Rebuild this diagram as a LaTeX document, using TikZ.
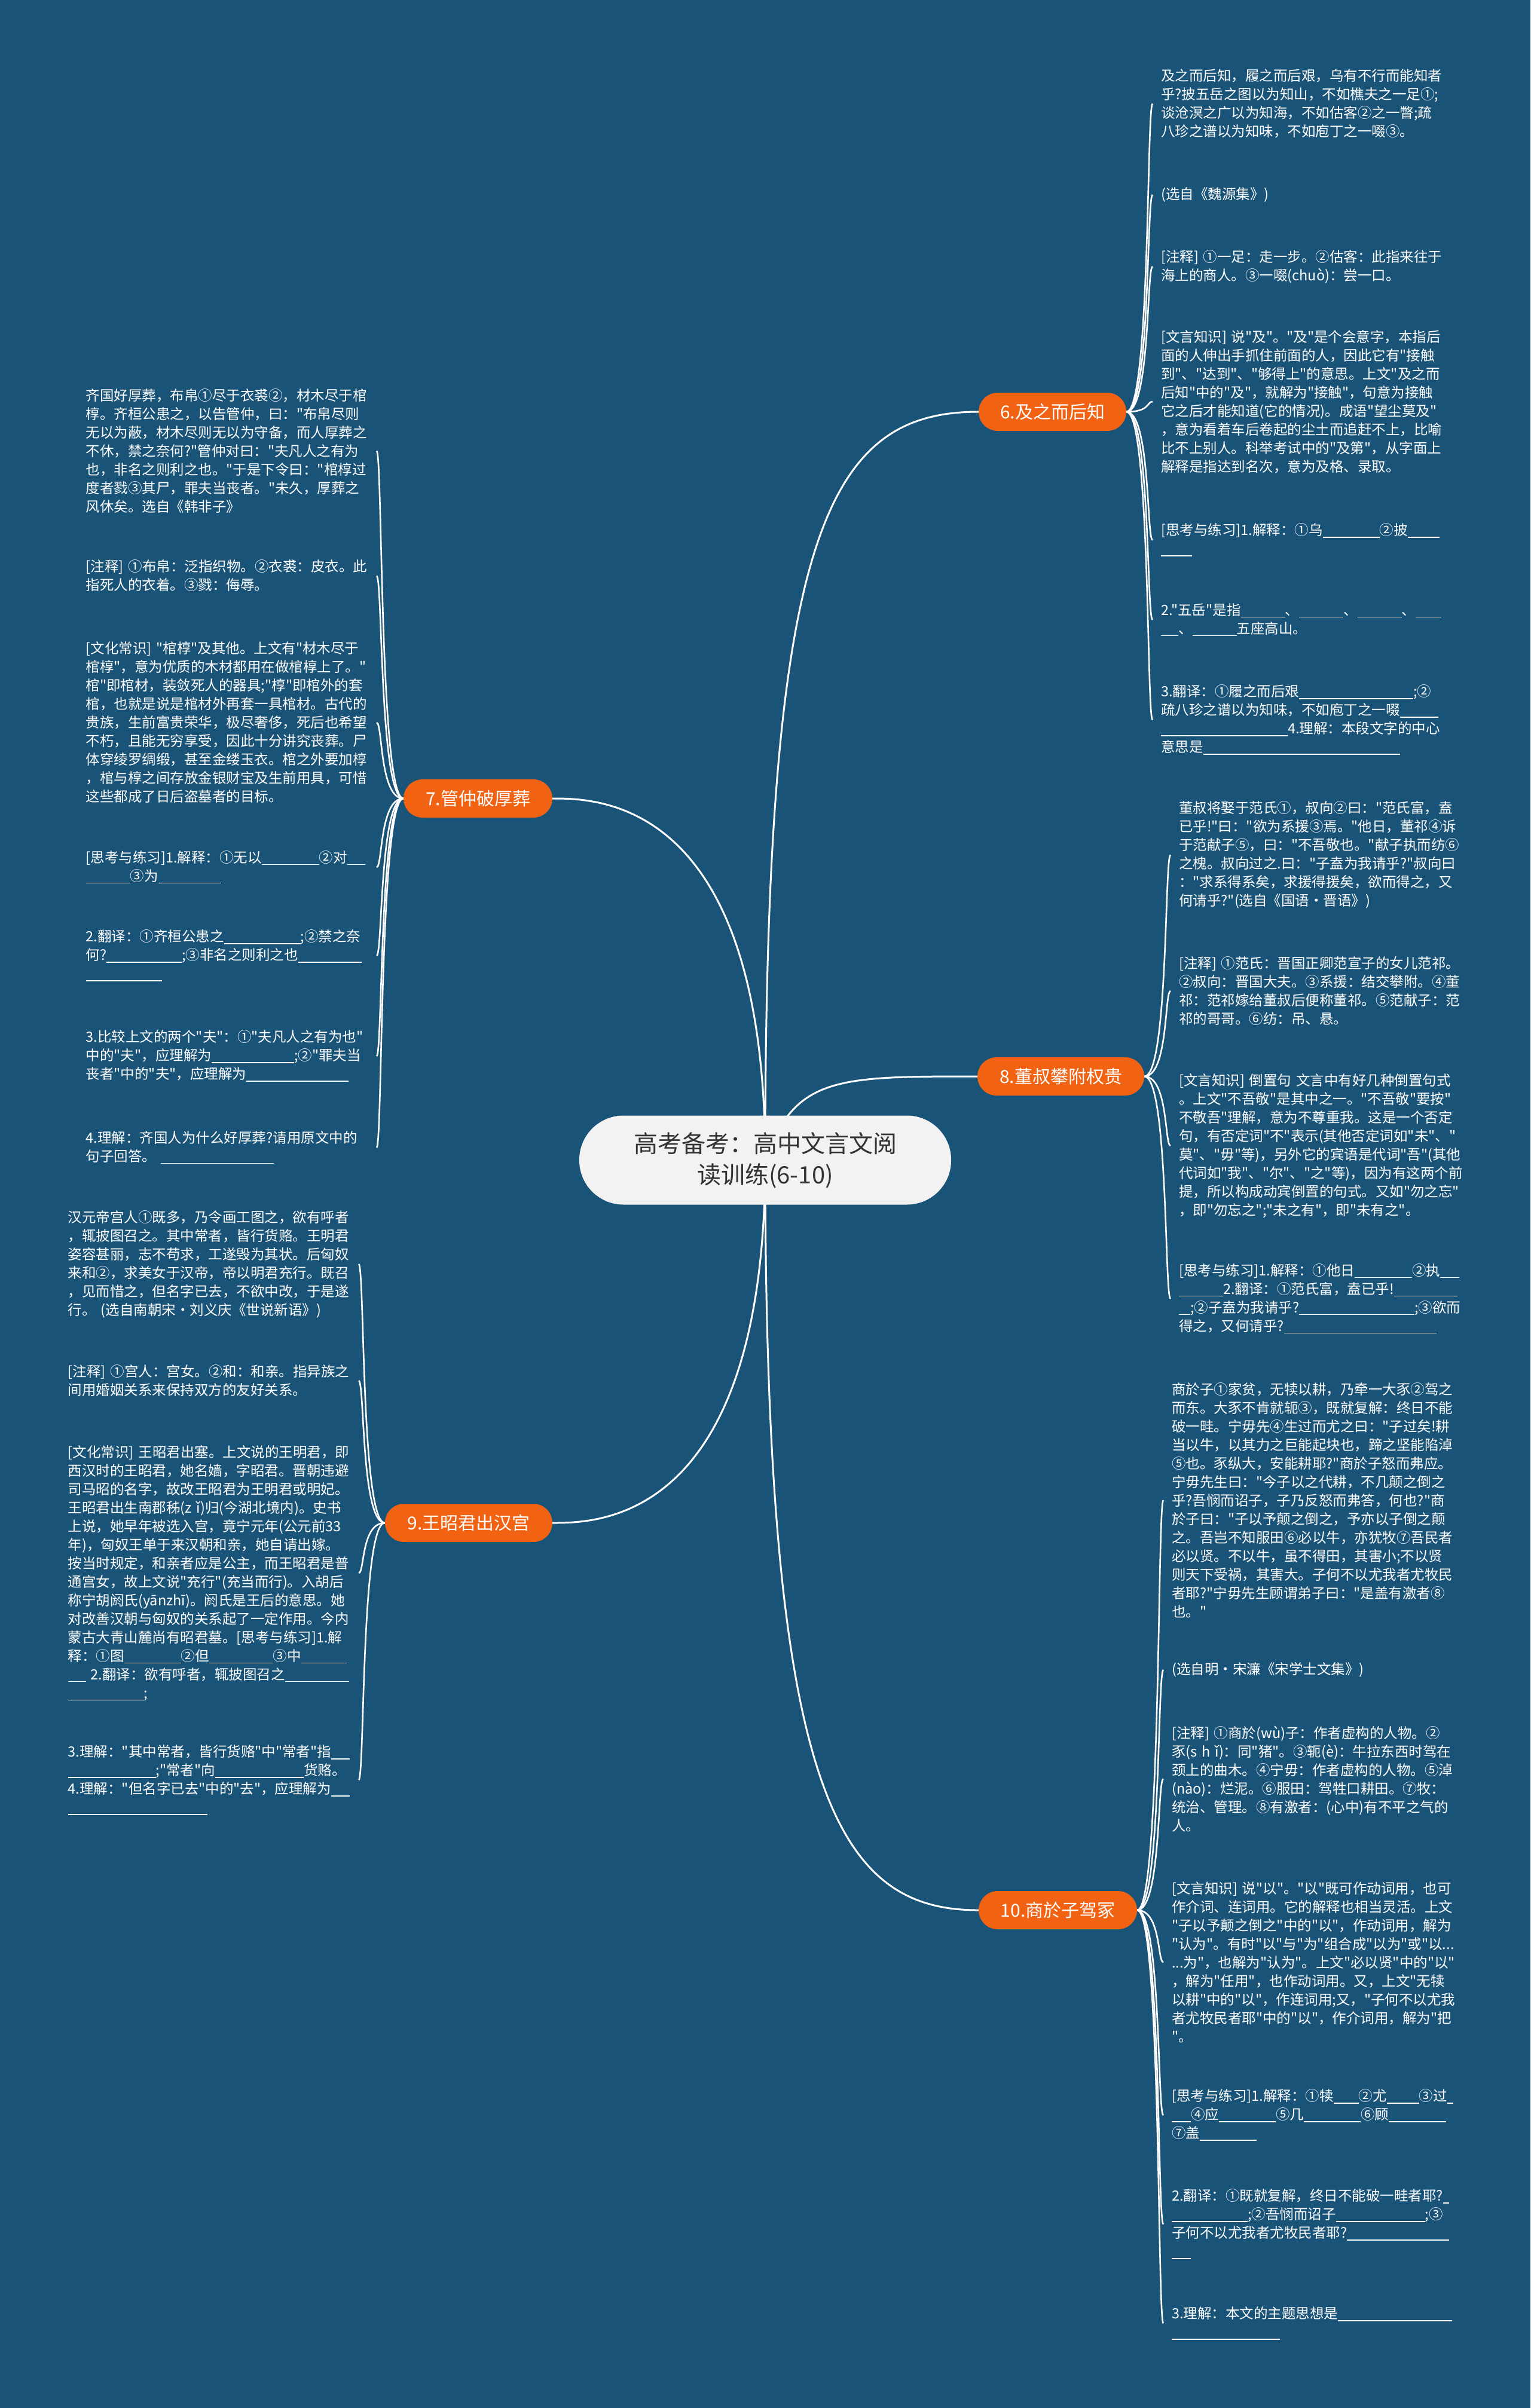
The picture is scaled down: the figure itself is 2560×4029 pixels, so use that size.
\documentclass[tikz,border=0pt]{standalone}
\usepackage{fontspec}
\newfontfamily\cjk{Noto Sans CJK SC}
\definecolor{bgc}{RGB}{26,83,120}
\definecolor{org}{RGB}{241,98,18}
\definecolor{ctrfill}{RGB}{242,242,242}
\definecolor{ctrtext}{RGB}{51,51,51}
\newcommand\blnk[1]{\rule[-4pt]{#1pt}{1.5pt}}
\pgfdeclarelayer{bg}
\pgfdeclarelayer{lines}
\pgfsetlayers{bg,lines,main}
\tikzset{
  leaf/.style={inner ysep=4pt, text width=480pt, align=left, text=white,
    font=\cjk\fontsize{23.5}{31}\selectfont},
  leafR/.style={leaf, anchor=west, inner xsep=14pt},
  leafL/.style={leaf, anchor=east, inner xsep=8pt, text width=478pt},
  branch/.style={fill=org, text=white, rounded corners=32pt, minimum height=64pt,
    inner xsep=0pt, font=\cjk\fontsize{30}{36}\selectfont},
  hub/.style={fill=ctrfill, text=ctrtext, rounded corners=74pt, minimum width=622pt,
    minimum height=149pt, align=center, font=\cjk\fontsize{40}{52}\selectfont},
  mainline/.style={draw=white, line width=3pt},
  twig/.style={draw=white, line width=2.6pt},
}
\begin{document}
\begin{tikzpicture}[x=1pt,y=-1pt]
\begin{pgfonlayer}{bg}
\fill[bgc] (0,0) rectangle (2560,4029);
\end{pgfonlayer}
\useasboundingbox (0,0) rectangle (2560,4029);

% hub and branches
\node[hub] (c) at (1280,1941) {高考备考：高中文言文阅\\读训练(6-10)};
\node[branch, minimum width=247pt] (b6) at (1760.5,689) {6.及之而后知};
\node[branch, minimum width=249pt] (b7) at (799.5,1336) {7.管仲破厚葬};
\node[branch, minimum width=279pt] (b8) at (1774.5,1801) {8.董叔攀附权贵};
\node[branch, minimum width=280pt] (b9) at (784,2548) {9.王昭君出汉宫};
\node[branch, minimum width=265pt] (b10) at (1769.5,3196) {10.商於子驾冢};

% branch 6
\node[leafR] (l6a) at (1928,173.5) {及之而后知，履之而后艰，乌有不行而能知者\\
乎?披五岳之图以为知山，不如樵夫之一足①;\\
谈沧溟之广以为知海，不如估客②之一瞥;疏\\
八珍之谱以为知味，不如庖丁之一啜③。};
\node[leafR] (l6b) at (1928,326) {(选自《魏源集》)};
\node[leafR] (l6c) at (1928,446) {[注释]~①一足：走一步。②估客：此指来往于\\
海上的商人。③一啜(chuò)：尝一口。};
\node[leafR] (l6d) at (1928,672) {[文言知识]~说"及"。"及"是个会意字，本指后\\
面的人伸出手抓住前面的人，因此它有"接触\\
到"、"达到"、"够得上"的意思。上文"及之而\\
后知"中的"及"，就解为"接触"，句意为接触\\
它之后才能知道(它的情况)。成语"望尘莫及"\\
，意为看着车后卷起的尘土而追赶不上，比喻\\
比不上别人。科举考试中的"及第"，从字面上\\
解释是指达到名次，意为及格、录取。};
\node[leafR] (l6e) at (1928,903.5) {[思考与练习]1.解释：①乌\blnk{95}②披\blnk{53}\\
\blnk{52}};
\node[leafR] (l6f) at (1928,1037) {2."五岳"是指\blnk{74}、\blnk{74}、\blnk{74}、\blnk{43}\\
\blnk{29}、\blnk{74}五座高山。};
\node[leafR] (l6g) at (1928,1204.5) {3.翻译：①履之而后艰\blnk{191};②\\
疏八珍之谱以为知味，不如庖丁之一啜\blnk{64}\\
\blnk{212}4.理解：本段文字的中心\\
意思是\blnk{329}};

% branch 7
\node[leafL] (l7a) at (630,754.5) {齐国好厚葬，布帛①尽于衣裘②，材木尽于棺\\
椁。齐桓公患之，以告管仲，曰："布帛尽则\\
无以为蔽，材木尽则无以为守备，而人厚葬之\\
不休，禁之奈何?"管仲对曰："夫凡人之有为\\
也，非名之则利之也。"于是下令曰："棺椁过\\
度者戮③其尸，罪夫当丧者。"未久，厚葬之\\
风休矣。选自《韩非子》};
\node[leafL] (l7b) at (630,963.5) {[注释]~①布帛：泛指织物。②衣裘：皮衣。此\\
指死人的衣着。③戮：侮辱。};
\node[leafL] (l7c) at (630,1209) {[文化常识]~"棺椁"及其他。上文有"材木尽于\\
棺椁"，意为优质的木材都用在做棺椁上了。"\\
棺"即棺材，装敛死人的器具;"椁"即棺外的套\\
棺，也就是说是棺材外再套一具棺材。古代的\\
贵族，生前富贵荣华，极尽奢侈，死后也希望\\
不朽，且能无穷享受，因此十分讲究丧葬。尸\\
体穿绫罗绸缎，甚至金缕玉衣。棺之外要加椁\\
，棺与椁之间存放金银财宝及生前用具，可惜\\
这些都成了日后盗墓者的目标。};
\node[leafL] (l7d) at (630,1451) {[思考与练习]1.解释：①无以\blnk{96}②对\blnk{30}\\
\blnk{74}③为\blnk{104}};
\node[leafL] (l7e) at (630,1599) {2.翻译：①齐桓公患之\blnk{128};②禁之奈\\
何?\blnk{126};③非名之则利之也\blnk{106}\\
\blnk{127}};
\node[leafL] (l7f) at (630,1767) {3.比较上文的两个"夫"：①"夫凡人之有为也"\\
中的"夫"，应理解为\blnk{138};②"罪夫当\\
丧者"中的"夫"，应理解为\blnk{171}};
\node[leafL] (l7g) at (630,1920) {4.理解：齐国人为什么好厚葬?请用原文中的\\
句子回答。\hspace{8pt}\blnk{189}};

% branch 8
\node[leafR] (l8a) at (1958,1430.5) {董叔将娶于范氏①，叔向②曰："范氏富，盍\\
已乎!"曰："欲为系援③焉。"他日，董祁④诉\\
于范献子⑤，曰："不吾敬也。"献子执而纺⑥\\
之槐。叔向过之.曰："子盍为我请乎?"叔向曰\\
："求系得系矣，求援得援矣，欲而得之，又\\
何请乎?"(选自《国语·晋语》)};
\node[leafR] (l8b) at (1958,1658) {[注释]~①范氏：晋国正卿范宣子的女儿范祁。\\
②叔向：晋国大夫。③系援：结交攀附。④董\\
祁：范祁嫁给董叔后便称董祁。⑤范献子：范\\
祁的哥哥。⑥纺：吊、悬。};
\node[leafR] (l8c) at (1958,1917) {[文言知识]~倒置句~文言中有好几种倒置句式\\
。上文"不吾敬"是其中之一。"不吾敬"要按"\\
不敬吾"理解，意为不尊重我。这是一个否定\\
句，有否定词"不"表示(其他否定词如"未"、"\\
莫"、"毋"等)，另外它的宾语是代词"吾"(其他\\
代词如"我"、"尔"、"之"等)，因为有这两个前\\
提，所以构成动宾倒置的句式。又如"勿之忘"\\
，即"勿忘之";"未之有"，即"未有之"。};
\node[leafR] (l8d) at (1958,2173) {[思考与练习]1.解释：①他日\blnk{96}②执\blnk{32}\\
\blnk{74}2.翻译：①范氏富，盍已乎!\blnk{106}\\
\blnk{19};②子盍为我请乎?\blnk{193};③欲而\\
得之，又何请乎?\blnk{255}};

% branch 9
\node[leafL] (l9a) at (600,2115) {汉元帝宫人①既多，乃令画工图之，欲有呼者\\
，辄披图召之。其中常者，皆行货赂。王明君\\
姿容甚丽，志不苟求，工遂毁为其状。后匈奴\\
来和②，求美女于汉帝，帝以明君充行。既召\\
，见而惜之，但名字已去，不欲中改，于是遂\\
行。~(选自南朝宋·刘义庆《世说新语》)};
\node[leafL] (l9b) at (600,2310) {[注释]~①宫人：宫女。②和：和亲。指异族之\\
间用婚姻关系来保持双方的友好关系。};
\node[leafL] (l9c) at (600,2632) {[文化常识]~王昭君出塞。上文说的王明君，即\\
西汉时的王昭君，她名嫱，字昭君。晋朝违避\\
司马昭的名字，故改王昭君为王明君或明妃。\\
王昭君出生南郡秭(z~ǐ)归(今湖北境内)。史书\\
上说，她早年被选入宫，竟宁元年(公元前33\\
年)，匈奴王单于来汉朝和亲，她自请出嫁。\\
按当时规定，和亲者应是公主，而王昭君是普\\
通宫女，故上文说"充行"(充当而行)。入胡后\\
称宁胡阏氏(yānzhī)。阏氏是王后的意思。她\\
对改善汉朝与匈奴的关系起了一定作用。今内\\
蒙古大青山麓尚有昭君墓。[思考与练习]1.解\\
释：①图\blnk{95}②但\blnk{107}③中\blnk{76}\\
\blnk{30}~2.翻译：欲有呼者，辄披图召之\blnk{107}\\
\blnk{127};};
\node[leafL] (l9d) at (600,2978) {3.理解："其中常者，皆行货赂"中"常者"指\blnk{31}\\
\blnk{147};"常者"向\blnk{148}货赂。\\
4.理解："但名字已去"中的"去"，应理解为\blnk{31}\\
\blnk{233}};

% branch 10
\node[leafR] (l10a) at (1946,2510) {商於子①家贫，无犊以耕，乃牵一大豕②驾之\\
而东。大豕不肯就轭③，既就复解：终日不能\\
破一畦。宁毋先④生过而尤之曰："子过矣!耕\\
当以牛，以其力之巨能起块也，蹄之坚能陷淖\\
⑤也。豕纵大，安能耕耶?"商於子怒而弗应。\\
宁毋先生曰："今子以之代耕，不几颠之倒之\\
乎?吾悯而诏子，子乃反怒而弗答，何也?"商\\
於子曰："子以予颠之倒之，予亦以子倒之颠\\
之。吾岂不知服田⑥必以牛，亦犹牧⑦吾民者\\
必以贤。不以牛，虽不得田，其害小;不以贤\\
则天下受祸，其害大。子何不以尤我者尤牧民\\
者耶?"宁毋先生顾谓弟子曰："是盖有激者⑧\\
也。"};
\node[leafR] (l10b) at (1946,2794) {(选自明·宋濂《宋学士文集》)};
\node[leafR] (l10c) at (1946,2976.5) {[注释]~①商於(wù)子：作者虚构的人物。②\\
豕(s~h~ǐ)：同"猪"。③轭(è)：牛拉东西时驾在\\
颈上的曲木。④宁毋：作者虚构的人物。⑤淖\\
(nào)：烂泥。⑥服田：驾牲口耕田。⑦牧：\\
统治、管理。⑧有激者：(心中)有不平之气的\\
人。};
\node[leafR] (l10d) at (1946,3283) {[文言知识]~说"以"。"以"既可作动词用，也可\\
作介词、连词用。它的解释也相当灵活。上文\\
"子以予颠之倒之"中的"以"，作动词用，解为\\
"认为"。有时"以"与"为"组合成"以为"或"以...\\
...为"，也解为"认为"。上文"必以贤"中的"以"\\
，解为"任用"，也作动词用。又，上文"无犊\\
以耕"中的"以"，作连词用;又，"子何不以尤我\\
者尤牧民者耶"中的"以"，作介词用，解为"把\\
"。};
\node[leafR] (l10e) at (1946,3539) {[思考与练习]1.解释：①犊\blnk{42}②尤\blnk{54}③过\blnk{10}\\
\blnk{32}④应\blnk{95}⑤几\blnk{95}⑥顾\blnk{96}\\
⑦盖\blnk{95}};
\node[leafR] (l10f) at (1946,3721.5) {2.翻译：①既就复解，终日不能破一畦者耶?\blnk{10}\\
\blnk{127};②吾悯而诏子\blnk{149};③\\
子何不以尤我者尤牧民者耶?\blnk{171}\\
\blnk{32}};
\node[leafR] (l10g) at (1946,3887) {3.理解：本文的主题思想是\blnk{191}\\
\blnk{181}};

\begin{pgfonlayer}{lines}
% hub to branches
\draw[mainline] (c.center) .. controls (1280,900) and (1380,689) .. (b6.west);
\draw[mainline] (c.center) .. controls (1280,1336) and (1000,1336) .. (b7.east);
\draw[mainline] (c.center) .. controls (1330,1801) and (1400,1801) .. (b8.west);
\draw[mainline] (c.center) .. controls (1280,2548) and (1000,2548) .. (b9.east);
\draw[mainline] (c.center) .. controls (1280,3000) and (1400,3196) .. (b10.west);
% right twigs
\foreach \l in {l6a,l6b,l6c,l6d,l6e,l6f,l6g}
  \draw[twig] (b6.east) .. controls +(40,0) and +(-10,0) .. (\l.west);
\foreach \l in {l8a,l8b,l8c,l8d}
  \draw[twig] (b8.east) .. controls +(40,0) and +(-10,0) .. (\l.west);
\foreach \l in {l10a,l10b,l10c,l10d,l10e,l10f,l10g}
  \draw[twig] (b10.east) .. controls +(40,0) and +(-10,0) .. (\l.west);
% left twigs
\foreach \l in {l7a,l7b,l7c,l7d,l7e,l7f,l7g}
  \draw[twig] (b7.west) .. controls +(-40,0) and +(10,0) .. (\l.east);
\foreach \l in {l9a,l9b,l9c,l9d}
  \draw[twig] (b9.west) .. controls +(-40,0) and +(10,0) .. (\l.east);
\end{pgfonlayer}
\end{tikzpicture}
\end{document}
